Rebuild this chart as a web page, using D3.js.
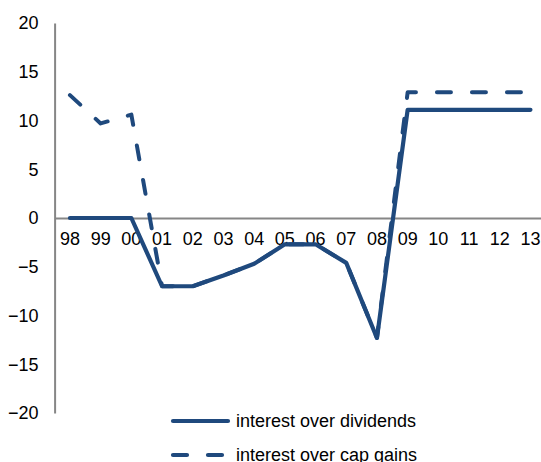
<!DOCTYPE html>
<html>
<head>
<meta charset="utf-8">
<script src="https://cdn.jsdelivr.net/npm/d3@7"></script>
<style>
  html, body { margin: 0; padding: 0; background: #fff; }
  svg { display: block; font-family: "Liberation Sans", Arial, sans-serif; }
</style>
</head>
<body>
<svg id="chart" width="541" height="462"></svg>
<script>
const categories = ["98","99","00","01","02","03","04","05","06","07","08","09","10","11","12","13"];
const interestOverDividends = [0, 0, 0, -7, -7, -5.9, -4.7, -2.7, -2.7, -4.6, -12.3, 11.1, 11.1, 11.1, 11.1, 11.1];
const interestOverCapGains = [12.6, 9.7, 10.6, -7, -7, -5.9, -4.7, -2.7, -2.7, -4.6, -12.3, 12.9, 12.9, 12.9, 12.9, 12.9];
const yTicks = [20, 15, 10, 5, 0, -5, -10, -15, -20];
const seriesNames = ["interest over dividends", "interest over cap gains"];

const color = "#1f497d";
const axisColor = "#868686";
const svg = d3.select("#chart");

const x = d3.scaleBand().domain(categories).range([54.6, 545.8]).paddingInner(0).paddingOuter(0);
const y = d3.scaleLinear().domain([-20, 20]).range([413, 23]);
const cx = d => x(d) + x.bandwidth() / 2;

// Y axis
const yAxis = svg.append("g")
  .attr("transform", `translate(${x.range()[0]},0)`)
  .call(d3.axisLeft(y).tickValues(yTicks).tickSize(0).tickSizeOuter(0).tickPadding(16).tickFormat(d3.format("d")));
yAxis.select(".domain").attr("stroke", axisColor).attr("stroke-width", 2);
yAxis.selectAll("text").attr("font-size", 18).attr("fill", "#000")
  .attr("font-family", "'Liberation Sans', Arial, sans-serif");

// X axis at zero
const xAxis = svg.append("g")
  .attr("transform", `translate(0,${y(0)})`)
  .call(d3.axisBottom(x).tickSize(0).tickSizeOuter(0).tickPadding(14.5));
xAxis.select(".domain").attr("stroke", axisColor).attr("stroke-width", 2);
xAxis.selectAll("text").attr("font-size", 18).attr("fill", "#000")
  .attr("font-family", "'Liberation Sans', Arial, sans-serif");

const line = d3.line().x((d, i) => cx(categories[i])).y(d => y(d));

// dashed series
svg.append("path")
  .datum(interestOverCapGains)
  .attr("d", line)
  .attr("fill", "none")
  .attr("stroke", color)
  .attr("stroke-width", 4)
  .attr("stroke-dasharray", "14,21")
  .attr("stroke-linecap", "round")
  .attr("stroke-linejoin", "round");

// solid series
svg.append("path")
  .datum(interestOverDividends)
  .attr("d", line)
  .attr("fill", "none")
  .attr("stroke", color)
  .attr("stroke-width", 4.2)
  .attr("stroke-linecap", "round")
  .attr("stroke-linejoin", "round");

// Legend
const legend = svg.append("g");
const legendItems = [
  { name: seriesNames[0], dash: null, y: 421 },
  { name: seriesNames[1], dash: "14,21", y: 455 }
];
legendItems.forEach(it => {
  legend.append("line")
    .attr("x1", 173).attr("x2", 228)
    .attr("y1", it.y).attr("y2", it.y)
    .attr("stroke", color).attr("stroke-width", 4.2)
    .attr("stroke-linecap", "round")
    .attr("stroke-dasharray", it.dash);
  legend.append("text")
    .attr("x", 236).attr("y", it.y)
    .attr("dy", "0.35em")
    .attr("font-size", 18)
    .attr("fill", "#000")
    .text(it.name);
});
</script>
</body>
</html>
